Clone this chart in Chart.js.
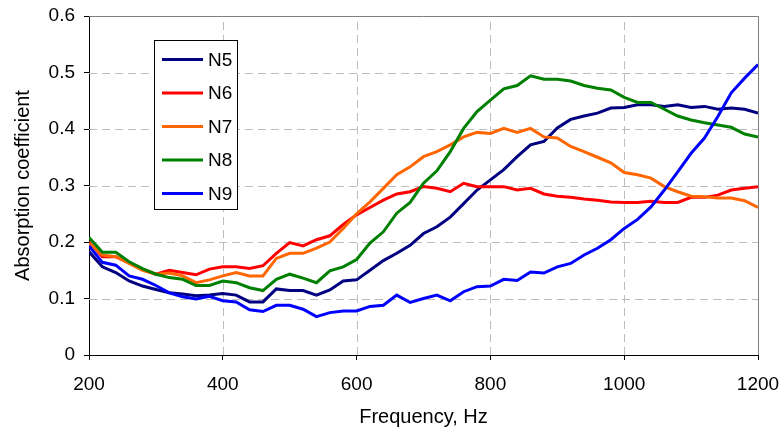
<!DOCTYPE html>
<html>
<head>
<meta charset="utf-8">
<script src="https://cdn.jsdelivr.net/npm/chart.js@4.4.0/dist/chart.umd.min.js"></script>
<style>
  html, body { margin: 0; padding: 0; background: #ffffff; }
  #wrap { width: 781px; height: 436px; }
</style>
</head>
<body>
<div id="wrap"><canvas id="chart" width="781" height="436"></canvas></div>
<script>
// Frequency points (Hz)
const frequencies = [200, 220, 240, 260, 280, 300, 320, 340, 360, 380,
  400, 420, 440, 460, 480, 500, 520, 540, 560, 580,
  600, 620, 640, 660, 680, 700, 720, 740, 760, 780,
  800, 820, 840, 860, 880, 900, 920, 940, 960, 980,
  1000, 1020, 1040, 1060, 1080, 1100, 1120, 1140, 1160, 1180, 1200];

// Absorption coefficient per sample
const n5 = [0.183, 0.156, 0.146, 0.131, 0.122, 0.116, 0.110, 0.108, 0.105, 0.106,
  0.109, 0.106, 0.094, 0.094, 0.117, 0.114, 0.114, 0.106, 0.115, 0.131,
  0.133, 0.150, 0.167, 0.180, 0.194, 0.215, 0.227, 0.244, 0.268, 0.292,
  0.310, 0.328, 0.351, 0.372, 0.378, 0.402, 0.417, 0.423, 0.428, 0.437,
  0.438, 0.443, 0.443, 0.440, 0.443, 0.438, 0.440, 0.435, 0.437, 0.435, 0.428];
const n6 = [0.200, 0.174, 0.174, 0.163, 0.152, 0.143, 0.150, 0.146, 0.142, 0.152,
  0.156, 0.156, 0.153, 0.158, 0.180, 0.199, 0.193, 0.204, 0.211, 0.231,
  0.248, 0.261, 0.274, 0.285, 0.289, 0.298, 0.295, 0.289, 0.304, 0.298,
  0.298, 0.298, 0.292, 0.295, 0.285, 0.281, 0.279, 0.276, 0.274, 0.271,
  0.270, 0.270, 0.272, 0.270, 0.270, 0.279, 0.279, 0.283, 0.292, 0.295, 0.298];
const n7 = [0.198, 0.177, 0.174, 0.162, 0.150, 0.143, 0.145, 0.140, 0.128, 0.133,
  0.140, 0.146, 0.140, 0.140, 0.171, 0.180, 0.180, 0.189, 0.200, 0.224,
  0.250, 0.271, 0.295, 0.319, 0.333, 0.351, 0.360, 0.372, 0.386, 0.394,
  0.392, 0.401, 0.394, 0.401, 0.386, 0.384, 0.369, 0.360, 0.350, 0.340,
  0.323, 0.319, 0.313, 0.298, 0.289, 0.281, 0.280, 0.278, 0.278, 0.273, 0.261];
const n8 = [0.208, 0.182, 0.182, 0.165, 0.153, 0.143, 0.137, 0.134, 0.123, 0.123,
  0.131, 0.128, 0.119, 0.114, 0.134, 0.143, 0.136, 0.128, 0.149, 0.156,
  0.169, 0.198, 0.218, 0.251, 0.270, 0.304, 0.326, 0.360, 0.401, 0.431,
  0.451, 0.471, 0.477, 0.494, 0.488, 0.488, 0.485, 0.477, 0.472, 0.469,
  0.456, 0.447, 0.447, 0.435, 0.423, 0.416, 0.411, 0.407, 0.403, 0.391, 0.386];
const n9 = [0.193, 0.164, 0.159, 0.140, 0.134, 0.123, 0.110, 0.103, 0.099, 0.104,
  0.096, 0.094, 0.080, 0.077, 0.088, 0.088, 0.081, 0.068, 0.075, 0.078,
  0.078, 0.086, 0.088, 0.106, 0.093, 0.100, 0.106, 0.096, 0.112, 0.121,
  0.122, 0.134, 0.132, 0.147, 0.145, 0.156, 0.162, 0.177, 0.189, 0.204,
  0.224, 0.240, 0.262, 0.292, 0.324, 0.357, 0.384, 0.422, 0.464, 0.490, 0.514];

const seriesNames = ['N5', 'N6', 'N7', 'N8', 'N9'];
const seriesValues = [n5, n6, n7, n8, n9];
const seriesColors = ['#000080', '#FF0000', '#FF6600', '#008000', '#0000FF'];

const FONT = "'Liberation Sans', Arial, sans-serif";

function toPoints(values) {
  return frequencies.map((f, i) => ({ x: f, y: values[i] }));
}

const datasets = seriesNames.map((name, i) => ({
  label: name,
  data: toPoints(seriesValues[i]),
  borderColor: seriesColors[i],
  backgroundColor: seriesColors[i],
  borderWidth: 3,
  pointRadius: 0,
  tension: 0,
  fill: false,
  order: seriesNames.length - i
}));

// Dashed interior grid, grey frame on top/right, and the boxed key
const frameAndKey = {
  id: 'frameAndKey',
  beforeDatasetsDraw(chart) {
    const { ctx, chartArea: a, scales } = chart;
    const xs = scales.x, ys = scales.y;
    ctx.save();
    ctx.strokeStyle = '#bdbdbd';
    ctx.lineWidth = 1;
    ctx.setLineDash([8, 5]);
    xs.ticks.forEach(t => {
      if (t.value <= xs.min || t.value >= xs.max) return;
      const px = Math.round(xs.getPixelForValue(t.value)) + 0.5;
      ctx.beginPath();
      ctx.moveTo(px, a.bottom);
      ctx.lineTo(px, a.top);
      ctx.stroke();
    });
    ys.ticks.forEach(t => {
      if (t.value <= ys.min + 1e-9 || t.value >= ys.max - 1e-9) return;
      const py = Math.round(ys.getPixelForValue(t.value)) + 0.5;
      ctx.beginPath();
      ctx.moveTo(a.left, py);
      ctx.lineTo(a.right, py);
      ctx.stroke();
    });
    ctx.setLineDash([]);
    ctx.strokeStyle = '#808080';
    ctx.beginPath();
    ctx.moveTo(a.left, Math.round(a.top) + 0.5);
    ctx.lineTo(Math.round(a.right) + 0.5, Math.round(a.top) + 0.5);
    ctx.lineTo(Math.round(a.right) + 0.5, a.bottom);
    ctx.stroke();
    ctx.restore();
  },
  afterDraw(chart) {
    const ctx = chart.ctx;
    const box = { x: 154.5, y: 40.5, w: 83, h: 169 };
    ctx.save();
    ctx.fillStyle = '#ffffff';
    ctx.fillRect(box.x, box.y, box.w, box.h);
    ctx.strokeStyle = '#000000';
    ctx.lineWidth = 1;
    ctx.strokeRect(box.x, box.y, box.w, box.h);
    ctx.font = '19px ' + FONT;
    ctx.textBaseline = 'middle';
    ctx.textAlign = 'left';
    chart.data.datasets.forEach((ds, i) => {
      const cy = 59.5 + i * 33.5;
      ctx.strokeStyle = ds.borderColor;
      ctx.lineWidth = 3;
      ctx.beginPath();
      ctx.moveTo(162, cy);
      ctx.lineTo(203, cy);
      ctx.stroke();
      ctx.fillStyle = '#000000';
      ctx.fillText(ds.label, 208, cy + 1);
    });
    ctx.restore();
  }
};

new Chart(document.getElementById('chart'), {
  type: 'line',
  data: { datasets },
  options: {
    responsive: false,
    animation: false,
    devicePixelRatio: 1,
    layout: { padding: { left: 0, right: 23, top: 16, bottom: 0 } },
    plugins: { legend: { display: false }, tooltip: { enabled: false } },
    scales: {
      x: {
        type: 'linear',
        min: 200,
        max: 1200,
        afterFit(scale) { scale.height = 81; scale.paddingLeft = 0; scale.paddingRight = 0; },
        ticks: { stepSize: 200, color: '#000000', font: { family: FONT, size: 19 }, padding: 13, maxRotation: 0,
                 callback: (v) => String(v) },
        grid: { drawOnChartArea: false, color: '#000000', tickColor: '#000000', tickLength: 5, drawTicks: true },
        border: { display: true, color: '#000000', width: 1 },
        title: { display: true, text: 'Frequency, Hz', color: '#000000', font: { family: FONT, size: 20 }, padding: { top: 0, bottom: 7 } }
      },
      y: {
        type: 'linear',
        min: 0,
        max: 0.6,
        afterFit(scale) { scale.width = 89; scale.paddingTop = 0; scale.paddingBottom = 0; },
        ticks: { stepSize: 0.1, color: '#000000', font: { family: FONT, size: 19 }, padding: 9,
                 callback: (v) => String(Math.round(v * 10) / 10) },
        grid: { drawOnChartArea: false, color: '#000000', tickColor: '#000000', tickLength: 5, drawTicks: true },
        border: { display: true, color: '#000000', width: 1 },
        title: { display: true, text: 'Absorption coefficient', color: '#000000', font: { family: FONT, size: 20 }, padding: { top: 11, bottom: 0 } }
      }
    }
  },
  plugins: [frameAndKey]
});
</script>
</body>
</html>
